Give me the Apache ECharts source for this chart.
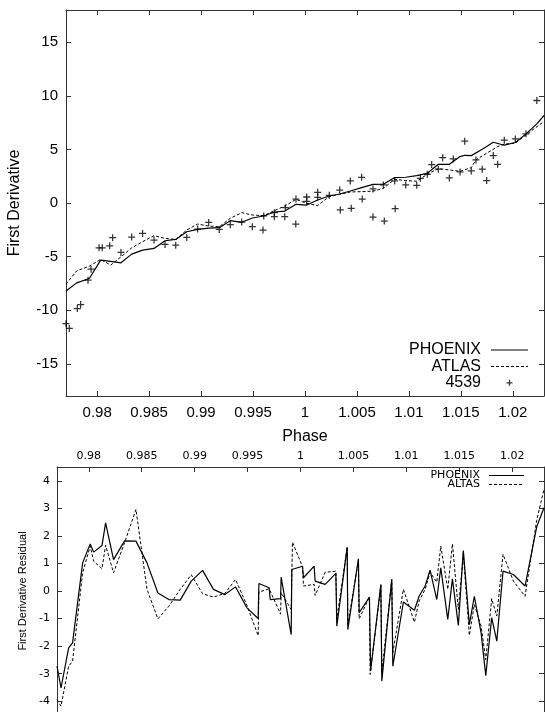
<!DOCTYPE html>
<html>
<head>
<meta charset="utf-8">
<script src="https://cdn.jsdelivr.net/npm/echarts@6/dist/echarts.min.js"></script>
<style>
  html, body { margin: 0; padding: 0; background: #fff; }
  #chart { width: 545px; height: 712px; }
</style>
</head>
<body>
<div id="chart"></div>
<script>
// observed first derivative, star 4539
const obsPhase = [0.97700, 0.97732, 0.97809, 0.97841, 0.97912, 0.97941, 0.98018, 0.98049, 0.98120, 0.98149,
  0.98229, 0.98332, 0.98437, 0.98547, 0.98653, 0.98756, 0.98862, 0.98967, 0.99073, 0.99175,
  0.99281, 0.99391, 0.99493, 0.99596, 0.99603, 0.99705, 0.99705, 0.99805, 0.99811, 0.99911,
  0.99913, 1.00016, 1.00016, 1.00122, 1.00122, 1.00234, 1.00334, 1.00340, 1.00436, 1.00445,
  1.00545, 1.00551, 1.00654, 1.00654, 1.00754, 1.00763, 1.00863, 1.00868, 1.00969, 1.01075,
  1.01110, 1.01177, 1.01219, 1.01283, 1.01325, 1.01389, 1.01427, 1.01492, 1.01537, 1.01600,
  1.01645, 1.01706, 1.01748, 1.01812, 1.01854, 1.01918, 1.02024, 1.02127, 1.02231];
const obsDeriv = [-11.25, -11.70, -9.84, -9.47, -7.20, -6.17, -4.18, -4.18, -3.99, -3.24,
  -4.61, -3.18, -2.84, -3.46, -3.86, -3.93, -3.21, -2.43, -1.81, -2.46,
  -2.02, -1.78, -2.21, -2.52, -1.21, -0.90, -1.28, -1.28, -0.44, -1.96,
  0.37, 0.56, 0.16, 1.00, 0.53, 0.72, 1.21, -0.65, 2.06, -0.50,
  2.40, 0.37, -1.31, 1.31, 1.68, -1.68, 2.06, -0.53, 1.68, 1.65,
  2.30, 2.68, 3.58, 3.15, 4.23, 2.34, 4.11, 2.90, 5.76, 2.99,
  4.02, 3.15, 2.09, 4.42, 3.61, 5.86, 5.98, 6.45, 9.56];

// model first derivative
const phoenixPhase = [0.97700, 0.97803, 0.97924, 0.98034, 0.98130, 0.98229, 0.98332, 0.98437, 0.98547, 0.98653,
  0.98756, 0.98862, 0.98967, 0.99073, 0.99175, 0.99281, 0.99391, 0.99493, 0.99603, 0.99705,
  0.99806, 0.99913, 1.00016, 1.00122, 1.00231, 1.00334, 1.00436, 1.00545, 1.00654, 1.00754,
  1.00863, 1.00969, 1.01075, 1.01177, 1.01283, 1.01389, 1.01492, 1.01537, 1.01600, 1.01706,
  1.01812, 1.01918, 1.02024, 1.02127, 1.02231, 1.02300];
const phoenixDeriv = [-8.20, -7.45, -7.04, -5.33, -5.45, -5.58, -4.77, -4.39, -4.24, -3.52,
  -3.40, -2.68, -2.46, -2.34, -2.30, -1.65, -1.80, -1.40, -1.21, -0.84,
  -0.75, -0.12, -0.19, 0.28, 0.65, 0.84, 1.12, 1.43, 1.73, 1.75,
  2.37, 2.40, 2.55, 2.77, 3.61, 3.61, 4.33, 4.45, 4.42, 5.02,
  5.67, 5.39, 5.64, 6.45, 7.38, 8.16];
const atlasPhase = [0.97700, 0.97803, 0.97924, 0.98034, 0.98130, 0.98229, 0.98332, 0.98437, 0.98547, 0.98653,
  0.98756, 0.98862, 0.98967, 0.99073, 0.99175, 0.99281, 0.99391, 0.99493, 0.99603, 0.99705,
  0.99806, 0.99913, 1.00016, 1.00122, 1.00231, 1.00334, 1.00436, 1.00545, 1.00654, 1.00754,
  1.00863, 1.00969, 1.01075, 1.01177, 1.01283, 1.01389, 1.01492, 1.01600, 1.01645, 1.01748,
  1.01854, 1.01918, 1.02024, 1.02127, 1.02300];
const atlasDeriv = [-7.57, -6.33, -5.89, -5.26, -5.79, -5.02, -4.18, -3.61, -3.05, -3.30,
  -3.40, -2.52, -1.96, -2.15, -2.21, -1.43, -0.90, -1.12, -1.18, -0.72,
  -0.28, 0.34, -0.03, -0.25, 0.59, 0.81, 1.03, 1.06, 1.10, 1.37,
  2.21, 2.09, 2.03, 2.68, 3.21, 3.08, 2.96, 3.30, 4.02, 4.64,
  5.26, 5.49, 5.58, 6.36, 7.60];

// residuals
const phoenixResPhase = [0.97700, 0.97738, 0.97810, 0.97847, 0.97942, 0.98014, 0.98046, 0.98125, 0.98159, 0.98234,
  0.98338, 0.98446, 0.98550, 0.98653, 0.98757, 0.98864, 0.98968, 0.99075, 0.99178, 0.99286,
  0.99386, 0.99494, 0.99600, 0.99607, 0.99704, 0.99714, 0.99812, 0.99817, 0.99912, 0.99918,
  1.00019, 1.00028, 1.00129, 1.00138, 1.00233, 1.00334, 1.00343, 1.00441, 1.00447, 1.00547,
  1.00554, 1.00651, 1.00662, 1.00759, 1.00768, 1.00862, 1.00872, 1.00972, 1.01076, 1.01120,
  1.01177, 1.01224, 1.01287, 1.01325, 1.01391, 1.01435, 1.01491, 1.01538, 1.01595, 1.01642,
  1.01706, 1.01750, 1.01806, 1.01854, 1.01913, 1.02011, 1.02121, 1.02231, 1.02300];
const phoenixRes = [-2.73, -3.52, -2.06, -1.88, 1.02, 1.71, 1.41, 1.65, 2.47, 1.14,
  1.82, 1.81, 1.02, -0.07, -0.31, -0.33, 0.36, 0.75, 0.06, -0.13,
  0.15, -0.61, -1.00, 0.27, 0.12, -0.31, -0.28, 0.50, -1.58, 0.78,
  0.90, 0.48, 0.90, 0.36, 0.24, 0.64, -1.28, 1.59, -1.40, 1.17,
  -0.79, -0.22, -2.90, 0.24, -3.27, 0.42, -2.73, -0.40, -0.70, -0.19,
  0.18, 0.76, -0.31, 0.84, -1.03, 0.44, -1.25, 1.47, -1.22, -0.19,
  -1.52, -3.07, -0.97, -1.82, 0.72, 0.60, 0.18, 2.33, 3.02];
const atlasResPhase = [0.97700, 0.97738, 0.97810, 0.97847, 0.97942, 0.98014, 0.98046, 0.98125, 0.98159, 0.98234,
  0.98338, 0.98446, 0.98550, 0.98653, 0.98757, 0.98864, 0.98968, 0.99075, 0.99178, 0.99286,
  0.99386, 0.99494, 0.99600, 0.99607, 0.99704, 0.99812, 0.99817, 0.99912, 0.99924, 1.00019,
  1.00028, 1.00129, 1.00138, 1.00233, 1.00334, 1.00343, 1.00441, 1.00447, 1.00547, 1.00554,
  1.00651, 1.00658, 1.00759, 1.00768, 1.00862, 1.00872, 1.00972, 1.01076, 1.01120, 1.01177,
  1.01224, 1.01287, 1.01325, 1.01391, 1.01435, 1.01491, 1.01538, 1.01595, 1.01642, 1.01706,
  1.01750, 1.01806, 1.01854, 1.01913, 1.02011, 1.02121, 1.02231, 1.02300];
const atlasRes = [-3.94, -4.18, -2.73, -2.55, 0.66, 1.63, 1.08, 0.81, 1.66, 0.66,
  1.75, 2.96, 0.06, -1.01, -0.55, 0.06, 0.59, -0.10, -0.22, -0.09,
  0.42, -0.52, -1.62, -0.04, 0.08, -0.84, -0.06, -0.67, 1.77, 0.88,
  0.18, 0.24, -0.16, 0.68, 0.72, -1.03, 1.59, -1.22, 1.10, -1.01,
  -0.22, -3.03, 0.20, -2.97, 0.42, -2.24, 0.06, -1.13, -0.37, 0.06,
  0.68, 0.32, 1.63, 0.06, 1.71, -0.67, 1.36, -1.61, -0.49, -1.28,
  -2.49, -0.28, -0.91, 1.33, 0.36, -0.19, 2.57, 3.69];

const phaseMin = 0.977, phaseMax = 1.023;

const NARROW = "'Liberation Sans Narrow', 'Liberation Sans', Arial, sans-serif";
const WIDE = "'DejaVu Sans', Verdana, sans-serif";
const FRAME = '#333';
const plusSymbol = 'path://M4.1,0H5.9V10H4.1ZM0,4.1H10V5.9H0Z';

// legend samples drawn as paths: two invisible corner dots fix the box, then the mark
function iconBox(w, h) {
  return 'M0,0h0.01v0.01h-0.01zM' + w + ',' + h + 'h0.01v0.01h-0.01z';
}
function solidIcon(w, h) {
  const y = h / 2 - 0.6;
  return 'path://' + iconBox(w, h) + 'M0,' + y + 'h' + w + 'v1.2h-' + w + 'z';
}
function dashedIcon(w, h) {
  const y = h / 2 - 0.5;
  let p = 'path://' + iconBox(w, h);
  for (let x = 0; x < w; x += 5) {
    const len = Math.min(3, w - x);
    p += 'M' + x + ',' + y + 'h' + len + 'v1h-' + len + 'z';
  }
  return p;
}
function plusIcon(w, h) {
  const cx = w / 2, cy = h / 2;
  return 'path://' + iconBox(w, h) +
    'M' + (cx - 0.65) + ',' + (cy - 3) + 'h1.3v6h-1.3z' +
    'M' + (cx - 3) + ',' + (cy - 0.65) + 'h6v1.3h-6z';
}

const pairs = (xs, ys) => xs.map((x, i) => [x, ys[i]]);

function frameAxis(gridIndex, position, min, max, splitNumber, label, ticks) {
  return {
    type: 'value', gridIndex, position, min, max, splitNumber,
    axisLine: { show: true, onZero: false, lineStyle: { color: FRAME, width: 1 } },
    axisTick: { show: ticks !== false, inside: true, length: 5, lineStyle: { color: FRAME } },
    splitLine: { show: false },
    axisLabel: label ? Object.assign({ showMinLabel: false, showMaxLabel: false, color: '#000' }, label) : { show: false }
  };
}

const chart = echarts.init(document.getElementById('chart'));

const xTop = frameAxis(0, 'bottom', phaseMin, phaseMax, 9, { fontFamily: NARROW, fontSize: 15, margin: 9 });
xTop.name = 'Phase';
xTop.nameLocation = 'middle';
xTop.nameGap = 33;
xTop.nameTextStyle = { fontFamily: NARROW, fontSize: 16, color: '#000' };

const yTop = frameAxis(0, 'left', -18, 18, 7, { fontFamily: NARROW, fontSize: 15, margin: 8 });
yTop.name = 'First Derivative';
yTop.nameLocation = 'middle';
yTop.nameGap = 43;
yTop.nameTextStyle = { fontFamily: NARROW, fontSize: 16, color: '#000' };

const xBot = frameAxis(1, 'top', phaseMin, phaseMax, 9, { fontFamily: WIDE, fontSize: 11, margin: 5 });
const yBot = frameAxis(1, 'left', -4.5, 4.5, 9, { fontFamily: WIDE, fontSize: 11, margin: 7 });
yBot.name = 'First Derivative Residual';
yBot.nameLocation = 'middle';
yBot.nameGap = 25;
yBot.nameTextStyle = { fontFamily: "'Liberation Sans', Arial, sans-serif", fontSize: 11, color: '#000' };

const option = {
  animation: false,
  backgroundColor: '#fff',
  color: ['#000'],
  grid: [
    { left: 66, right: 1, top: 10, height: 386, outerBoundsMode: 'none' },
    { left: 57, right: 1, top: 467, height: 248, outerBoundsMode: 'none' }
  ],
  xAxis: [
    xTop,
    frameAxis(0, 'top', phaseMin, phaseMax, 9, null),
    xBot,
    frameAxis(1, 'bottom', phaseMin, phaseMax, 9, null, false)
  ],
  yAxis: [
    yTop,
    frameAxis(0, 'right', -18, 18, 7, null),
    yBot,
    frameAxis(1, 'right', -4.5, 4.5, 9, null)
  ],
  legend: [
    {
      data: [
        { name: 'PHOENIX', icon: solidIcon(37, 14) },
        { name: 'ATLAS', icon: dashedIcon(37, 14) },
        { name: '4539', icon: plusIcon(37, 14) }
      ],
      orient: 'vertical', align: 'right', right: 17, top: 342,
      itemWidth: 37, itemHeight: 14, itemGap: 0.4, padding: 0,
      selectedMode: false,
      itemStyle: { color: '#000', borderWidth: 0 },
      textStyle: { fontFamily: NARROW, fontSize: 16, lineHeight: 16, color: '#000', padding: [0, 5, 0, 0] }
    },
    {
      data: [
        { name: 'PHOENIX', icon: solidIcon(35, 10) },
        { name: 'ALTAS', icon: dashedIcon(35, 10) }
      ],
      orient: 'vertical', align: 'right', right: 21, top: 470,
      itemWidth: 35, itemHeight: 10, itemGap: -2, padding: 0,
      selectedMode: false,
      itemStyle: { color: '#000', borderWidth: 0 },
      textStyle: { fontFamily: WIDE, fontSize: 11, lineHeight: 10, color: '#000', padding: [0, 4, 0, 0] }
    }
  ],
  series: [
    {
      name: 'PHOENIX', type: 'line', xAxisIndex: 0, yAxisIndex: 0,
      data: pairs(phoenixPhase, phoenixDeriv),
      symbol: 'none', showSymbol: false,
      itemStyle: { color: '#000' },
      lineStyle: { color: '#000', width: 1.2, type: 'solid' }
    },
    {
      name: 'ATLAS', type: 'line', xAxisIndex: 0, yAxisIndex: 0,
      data: pairs(atlasPhase, atlasDeriv),
      symbol: 'none', showSymbol: false,
      itemStyle: { color: '#000' },
      lineStyle: { color: '#000', width: 1, type: [3, 2] }
    },
    {
      name: '4539', type: 'scatter', xAxisIndex: 0, yAxisIndex: 0,
      data: pairs(obsPhase, obsDeriv),
      symbol: plusSymbol, symbolSize: 7, symbolKeepAspect: true,
      itemStyle: { color: '#000' }
    },
    {
      name: 'PHOENIX', type: 'line', xAxisIndex: 2, yAxisIndex: 2,
      data: pairs(phoenixResPhase, phoenixRes),
      symbol: 'none', showSymbol: false,
      itemStyle: { color: '#000' },
      lineStyle: { color: '#000', width: 1.2, type: 'solid' }
    },
    {
      name: 'ALTAS', type: 'line', xAxisIndex: 2, yAxisIndex: 2,
      data: pairs(atlasResPhase, atlasRes),
      symbol: 'none', showSymbol: false,
      itemStyle: { color: '#000' },
      lineStyle: { color: '#000', width: 1, type: [3, 2] }
    }
  ]
};

chart.setOption(option);
</script>
</body>
</html>
